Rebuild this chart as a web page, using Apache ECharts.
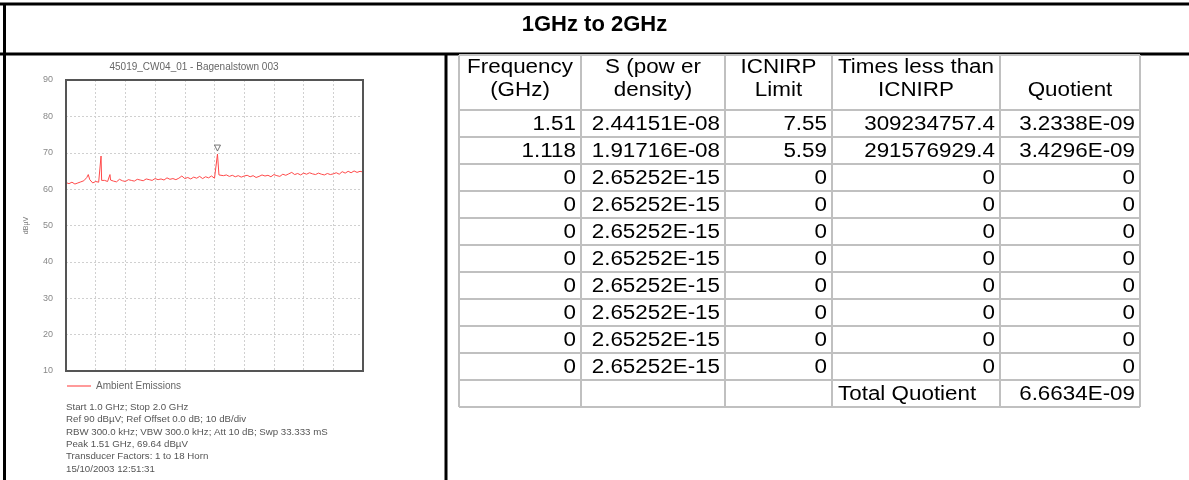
<!DOCTYPE html>
<html><head><meta charset="utf-8">
<script src="https://cdn.jsdelivr.net/npm/echarts@6/dist/echarts.min.js"></script>
<style>html,body{margin:0;padding:0;background:#fff}#c{width:1189px;height:480px}</style>
</head><body><div id="c"></div>
<script>
// ---------- data ----------
const pageTitle = '1GHz to 2GHz';
const traceTitle = '45019_CW04_01 - Bagenalstown 003';
const seriesName = 'Ambient Emissions';
const yAxisName = 'dBµV';

const freqGHz = [1.00,1.01,1.02,1.03,1.04,1.05,1.06,1.07,1.075,1.08,1.09,1.10,1.11,1.116,1.118,1.120,1.125,1.13,1.14,1.148,1.15,1.16,1.17,1.18,1.19,
 1.20,1.21,1.22,1.23,1.24,1.25,1.26,1.27,1.28,1.29,1.30,1.31,1.32,1.33,1.34,1.35,1.36,1.37,1.38,1.39,1.40,1.41,1.42,1.43,1.44,1.45,1.46,1.47,1.48,1.49,
 1.50,1.505,1.51,1.515,1.52,1.53,1.54,1.55,1.56,1.57,1.58,1.59,1.60,1.61,1.62,1.63,1.64,1.65,1.66,1.67,1.68,1.69,1.70,1.71,1.72,1.73,1.74,1.75,1.76,1.77,1.78,1.79,
 1.80,1.81,1.82,1.83,1.84,1.85,1.86,1.87,1.88,1.89,1.90,1.91,1.92,1.93,1.94,1.95,1.96,1.97,1.98,1.99,2.00];
const levelDbuV = [61.8,61.5,61.9,61.4,61.7,62.0,62.3,63.2,64.0,62.6,61.7,62.1,61.9,62.2,69.1,62.4,62.0,62.4,62.1,64.0,62.5,62.2,62.0,62.7,62.3,
 62.1,62.6,62.4,62.2,62.7,62.5,62.3,62.8,62.6,62.4,62.9,62.6,62.8,62.5,63.1,62.7,62.9,62.6,63.0,63.6,62.9,63.2,62.8,63.3,63.0,63.5,62.9,63.4,63.1,63.6,
 63.0,63.2,69.64,63.9,64.1,63.7,63.9,63.5,63.8,63.4,63.7,63.3,63.6,63.8,63.4,63.7,63.2,63.5,63.9,63.6,63.8,63.4,64.0,63.7,63.5,64.1,63.8,64.2,64.6,64.0,64.3,63.9,
 64.4,64.1,64.5,64.2,64.0,64.4,64.1,63.9,64.3,64.0,64.2,64.5,64.1,64.8,64.4,64.9,64.5,65.0,64.6,64.9,64.7];
const peakFreq = [1.51];
const peakLevel = [69.64];

const infoLines = [
 'Start 1.0 GHz; Stop 2.0 GHz',
 'Ref 90 dBµV; Ref Offset 0.0 dB; 10 dB/div',
 'RBW 300.0 kHz; VBW 300.0 kHz; Att 10 dB; Swp 33.333 mS',
 'Peak 1.51 GHz, 69.64 dBµV',
 'Transducer Factors: 1 to 18 Horn',
 '15/10/2003 12:51:31'
];

const headerLine1 = ['Frequency', 'S (pow er', 'ICNIRP', 'Times less than', ''];
const headerLine2 = ['(GHz)', 'density)', 'Limit', 'ICNIRP', 'Quotient'];
const colFrequency = ['1.51','1.118','0','0','0','0','0','0','0','0'];
const colPowerDensity = ['2.44151E-08','1.91716E-08','2.65252E-15','2.65252E-15','2.65252E-15','2.65252E-15','2.65252E-15','2.65252E-15','2.65252E-15','2.65252E-15'];
const colLimit = ['7.55','5.59','0','0','0','0','0','0','0','0'];
const colTimesLess = ['309234757.4','291576929.4','0','0','0','0','0','0','0','0'];
const colQuotient = ['3.2338E-09','3.4296E-09','0','0','0','0','0','0','0','0'];
const totalLabel = 'Total Quotient';
const totalValue = '6.6634E-09';

// ---------- layout ----------
const FONT = '"Liberation Sans", Arial, sans-serif';
const TX = [459, 581, 725, 832, 1000, 1140];
const T_TOP = 55, HEAD_H = 55, ROW_H = 27;
const TFS = 20, TSX = 1.12;
const gridC = '#c0c0c0';
const G = {left:66, top:80, width:297, height:291};

const els = [];
// page frame
const black = {stroke:'#000', lineWidth:3};
els.push({type:'line', shape:{x1:0, y1:4, x2:1189, y2:4}, style:black});
els.push({type:'line', shape:{x1:4.5, y1:3, x2:4.5, y2:480}, style:black});
els.push({type:'line', shape:{x1:0, y1:54, x2:1189, y2:54}, style:black});
els.push({type:'line', shape:{x1:446, y1:54, x2:446, y2:480}, style:black});

// plot frame
els.push({type:'rect', z:100, shape:{x:G.left, y:G.top, width:G.width, height:G.height}, style:{fill:null, stroke:'#555', lineWidth:2}});

// table
const allRows = colFrequency.map((f, i) => [f, colPowerDensity[i], colLimit[i], colTimesLess[i], colQuotient[i]]);
allRows.push(['', '', '', totalLabel, totalValue]);
const tBottom = T_TOP + HEAD_H + allRows.length * ROW_H;
const hy = [T_TOP, T_TOP + HEAD_H];
for (let r = 1; r <= allRows.length; r++) hy.push(T_TOP + HEAD_H + r * ROW_H);
hy.forEach(y => els.push({type:'line', shape:{x1:TX[0], y1:y, x2:TX[5], y2:y}, style:{stroke:gridC, lineWidth:2}}));
TX.forEach(x => els.push({type:'line', shape:{x1:x, y1:T_TOP, x2:x, y2:tBottom}, style:{stroke:gridC, lineWidth:2}}));

function cellText(txt, x, y, align) {
  els.push({type:'text', x:x, y:y, scaleX:TSX,
    style:{text:txt, x:0, y:0, align:align, verticalAlign:'middle', fontSize:TFS, fontFamily:FONT, fill:'#000'}});
}
for (let c = 0; c < 5; c++) {
  const cx = (TX[c] + TX[c+1]) / 2;
  if (headerLine1[c]) cellText(headerLine1[c], cx, T_TOP + 12, 'center');
  cellText(headerLine2[c], cx, T_TOP + 35, 'center');
}
allRows.forEach((row, r) => {
  const cy = T_TOP + HEAD_H + r * ROW_H + ROW_H / 2 + 1;
  row.forEach((v, c) => {
    if (!v) return;
    if (v === totalLabel) cellText(v, TX[c] + 6, cy, 'left');
    else cellText(v, TX[c+1] - 5, cy, 'right');
  });
});

// left panel texts
els.push({type:'text', style:{text:traceTitle, x:194, y:67, align:'center', verticalAlign:'middle', fontSize:10, fontFamily:FONT, fill:'#666'}});
els.push({type:'text', style:{text:infoLines.join('\n'), x:66, y:401, align:'left', verticalAlign:'top', fontSize:9.7, lineHeight:12.4, fontFamily:FONT, fill:'#555'}});

const chart = echarts.init(document.getElementById('c'), null, {renderer:'canvas'});
chart.setOption({
  animation:false,
  backgroundColor:'#fff',
  title:{text:pageTitle, left:'center', top:9, textStyle:{fontSize:22, fontWeight:'bold', fontFamily:FONT, color:'#000'}},
  legend:{data:[seriesName], left:62, top:376, icon:'rect', itemWidth:24, itemHeight:2, itemGap:6,
    itemStyle:{color:'#ff9a9a'}, textStyle:{fontSize:10, color:'#666', fontFamily:FONT}},
  grid:{left:G.left, top:G.top, width:G.width, height:G.height, show:false},
  xAxis:{type:'value', min:1, max:2, interval:0.1, axisLabel:{show:false}, axisTick:{show:false}, axisLine:{show:false},
    splitLine:{show:true, lineStyle:{color:'#d0d0d0', type:[2,2], width:1}}},
  yAxis:{type:'value', min:10, max:90, interval:10, name:yAxisName, nameLocation:'middle', nameGap:36, nameRotate:90,
    nameTextStyle:{fontSize:7, color:'#777', fontFamily:FONT},
    axisLabel:{fontSize:9, color:'#888', margin:13, fontFamily:FONT}, axisTick:{show:false}, axisLine:{show:false},
    splitLine:{show:true, lineStyle:{color:'#d0d0d0', type:[2,2], width:1}}},
  series:[
    {name:seriesName, type:'line', data:freqGHz.map((f,i)=>[f, levelDbuV[i]]), showSymbol:false, symbol:'none',
      lineStyle:{color:'#ff4a4a', width:1}, itemStyle:{color:'#ff9a9a'}, z:3},
    {name:'peak', type:'scatter', data:peakFreq.map((f,i)=>[f, peakLevel[i]]), symbol:'triangle', symbolRotate:180, symbolSize:6,
      symbolOffset:[0,-6], itemStyle:{color:'#fff', borderColor:'#555', borderWidth:1}, z:4}
  ],
  graphic:els
});
</script></body></html>
